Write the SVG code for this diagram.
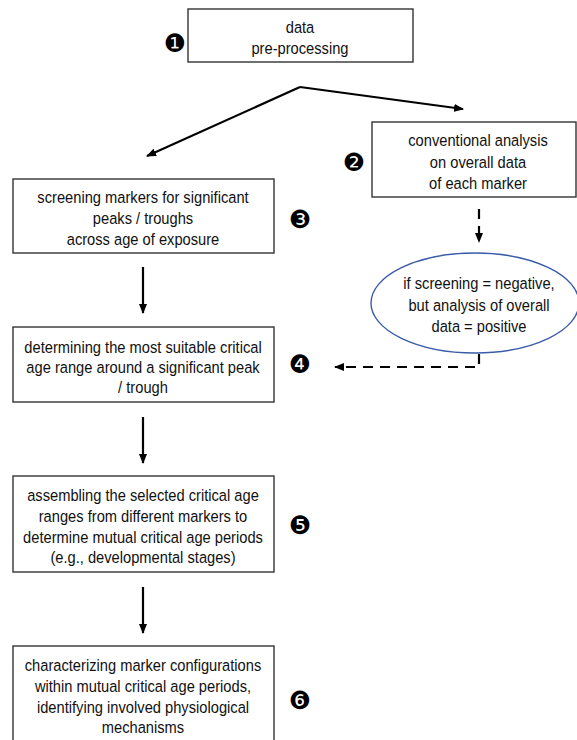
<svg xmlns="http://www.w3.org/2000/svg" width="577" height="740" viewBox="0 0 577 740">
<style>
.box{fill:#fff;stroke:#333;stroke-width:1.4}
.ell{fill:#fff;stroke:#3a5ca8;stroke-width:1.4}
.t{font-family:"Liberation Sans",Arial,sans-serif;font-size:16.5px;fill:#111;text-anchor:middle;dominant-baseline:central}
.b{font-family:"DejaVu Sans",sans-serif;font-size:25px;fill:#000;text-anchor:middle;dominant-baseline:central}
.c{fill:none;stroke:#000;stroke-width:2.2}
.d{fill:none;stroke:#000;stroke-width:2.2;stroke-dasharray:10 7}
</style>
<defs>
<marker id="ah" markerUnits="userSpaceOnUse" markerWidth="10" markerHeight="8" refX="9" refY="4" orient="auto">
<path d="M0,0 L10,4 L0,8 z" fill="#000"/>
</marker>
</defs>
<g id="connectors">
<path class="c" d="M300,87 L147,156" marker-end="url(#ah)"/>
<path class="c" d="M300,87 L463,109" marker-end="url(#ah)"/>
<path class="c" d="M143,267 V313" marker-end="url(#ah)"/>
<path class="c" d="M143,417 V463" marker-end="url(#ah)"/>
<path class="c" d="M143,587 V633" marker-end="url(#ah)"/>
<path class="d" d="M479,209 V242" marker-end="url(#ah)"/>
<path class="d" d="M479,354 V367 H335" marker-end="url(#ah)"/>
</g>
<g id="n1">
<rect class="box" x="188" y="9" width="225" height="53"/>
<g transform="translate(300 0) scale(0.89 1)">
<text class="t" x="0" y="27">data</text>
<text class="t" x="0" y="48">pre-processing</text>
</g>
<text class="b" x="175" y="43">❶</text>
</g>
<g id="n2">
<rect class="box" x="372" y="122" width="204" height="75"/>
<g transform="translate(478 0) scale(0.89 1)">
<text class="t" x="0" y="140">conventional analysis</text>
<text class="t" x="0" y="162">on overall data</text>
<text class="t" x="0" y="183">of each marker</text>
</g>
<text class="b" x="354" y="162">❷</text>
</g>
<g id="n3">
<rect class="box" x="13" y="179" width="261" height="74"/>
<g transform="translate(143 0) scale(0.89 1)">
<text class="t" x="0" y="197">screening markers for significant</text>
<text class="t" x="0" y="218">peaks / troughs</text>
<text class="t" x="0" y="239">across age of exposure</text>
</g>
<text class="b" x="300" y="219">❸</text>
</g>
<g id="n_ellipse">
<ellipse class="ell" cx="475" cy="303" rx="104" ry="50"/>
<g transform="translate(479 0) scale(0.89 1)">
<text class="t" x="0" y="283">if screening = negative,</text>
<text class="t" x="0" y="305">but analysis of overall</text>
<text class="t" x="0" y="326">data = positive</text>
</g>
</g>
<g id="n4">
<rect class="box" x="13" y="327" width="261" height="75"/>
<g transform="translate(143 0) scale(0.89 1)">
<text class="t" x="0" y="347">determining the most suitable critical</text>
<text class="t" x="0" y="367">age range around a significant peak</text>
<text class="t" x="0" y="387">/ trough</text>
</g>
<text class="b" x="300" y="364">❹</text>
</g>
<g id="n5">
<rect class="box" x="13" y="476" width="261" height="96"/>
<g transform="translate(143 0) scale(0.89 1)">
<text class="t" x="0" y="495">assembling the selected critical age</text>
<text class="t" x="0" y="516">ranges from different markers to</text>
<text class="t" x="0" y="537">determine mutual critical age periods</text>
<text class="t" x="0" y="557">(e.g., developmental stages)</text>
</g>
<text class="b" x="300" y="525">❺</text>
</g>
<g id="n6">
<rect class="box" x="13" y="646" width="261" height="100"/>
<g transform="translate(143 0) scale(0.89 1)">
<text class="t" x="0" y="665">characterizing marker configurations</text>
<text class="t" x="0" y="686">within mutual critical age periods,</text>
<text class="t" x="0" y="707">identifying involved physiological</text>
<text class="t" x="0" y="727">mechanisms</text>
</g>
<text class="b" x="300" y="700">❻</text>
</g>
</svg>
